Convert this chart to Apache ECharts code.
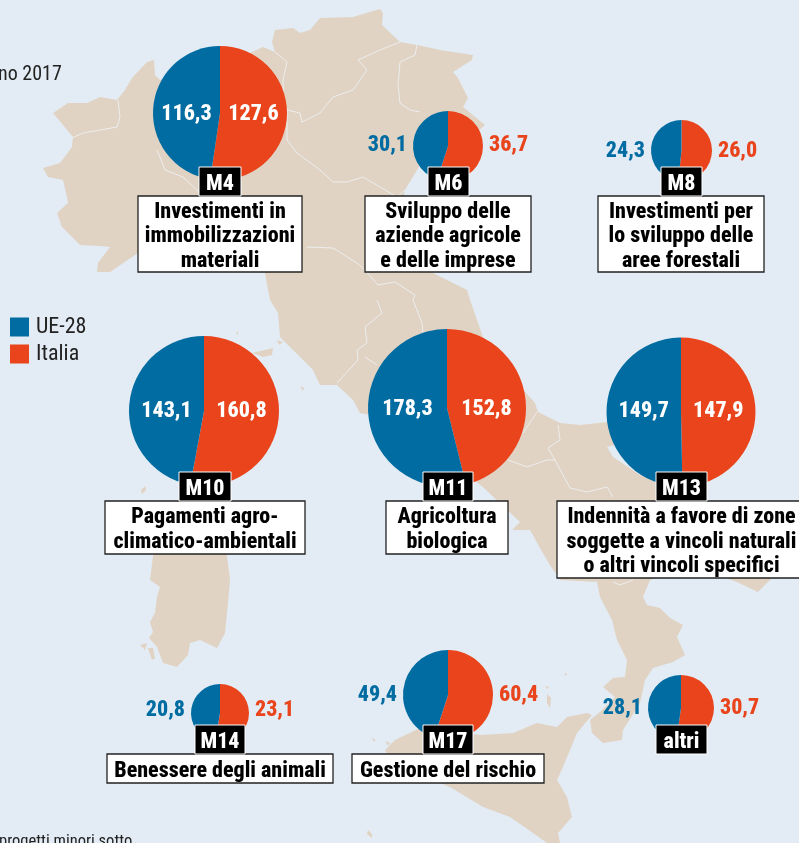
<!DOCTYPE html>
<html><head><meta charset="utf-8">
<style>html,body{margin:0;padding:0;background:#e3ecf4}#c{width:799px;height:843px}</style>
<script src="https://cdn.jsdelivr.net/npm/echarts@6/dist/echarts.min.js"></script>
</head><body><div id="c"></div>
<script>
// ---- data ----
const measures = ['M4','M6','M8','M10','M11','M13','M14','M17','altri'];
const ue28     = [116.3,30.1,24.3,143.1,178.3,149.7,20.8,49.4,28.1];
const italia   = [127.6,36.7,26.0,160.8,152.8,147.9,23.1,60.4,30.7];
const titles   = [
 'Investimenti in\nimmobilizzazioni\nmateriali',
 'Sviluppo delle\naziende agricole\ne delle imprese',
 'Investimenti per\nlo sviluppo delle\naree forestali',
 'Pagamenti agro-\nclimatico-ambientali',
 'Agricoltura\nbiologica',
 'Indennità a favore di zone\nsoggette a vincoli naturali\no altri vincoli specifici',
 'Benessere degli animali',
 'Gestione del rischio',
 ''];
// ---- layout ----
const pieCx = [220,448,681.5,204,447,681,220,448,681];
const pieCy = [113,146,150.5,411,408,412,713,695,708];
const pieR  = [67,35,30.5,75,79,74.5,29,45,33];
const labelY= [114.5,145,151.5,411.5,409.5,411.5,710.5,695.5,708.5];
const inside= [1,0,0,1,1,1,0,0,0];
const tagX  = [[199,241],[428,469],[661,702],[179,231],[423,473],[656,707],[195,245],[423,473],[656,707]];
const tagY  = [167,167,167,472,472,472,725,725,725];
const boxX  = [[138,302],[365,531],[598,764],[105,305],[386,508],[557,806],[107,333],[352,544],null];
const boxY  = [[196,272],[196,272],[196,272],[501,554],[501,554],[501,578],[754,783],[754,783],null];

const BLUE='#006ca1', RED='#e9441b', LAND='#e0d3c3', INK='#000';
const NARROW='"Roboto Condensed","Open Sans Condensed",sans-serif';
const HEAVY=800;
const fmt=v=>v.toFixed(1).replace('.',',');

// ---- base map (decorative backdrop) ----
const mainland=[[53,113],[68,103],[87,103],[100,97],[117,100],[125,90],[132,78],[147,62],[154,60],[155,75],[160,80],[200,60],[240,60],[252,52],[263,47],[275,52],[272,42],[275,30],[293,28],[300,33],[310,30],[320,18],[353,17],[380,9],[383,13],[382,25],[400,42],[417,45],[440,50],[473,55],[472,60],[453,72],[458,78],[468,98],[463,107],[485,125],[477,132],[460,150],[420,165],[405,190],[400,215],[410,245],[433,273],[467,290],[470,300],[483,337],[510,375],[535,403],[538,412],[560,423],[580,425],[607,422],[625,425],[635,440],[607,447],[613,457],[640,475],[680,490],[730,520],[770,560],[775,575],[758,592],[737,582],[715,574],[690,572],[665,575],[650,580],[643,597],[647,605],[660,608],[670,618],[683,625],[677,637],[685,655],[673,662],[653,668],[645,680],[640,703],[623,730],[622,740],[603,743],[592,733],[590,720],[600,712],[615,697],[603,687],[613,678],[625,677],[627,660],[617,640],[612,620],[600,597],[597,582],[560,580],[550,565],[540,548],[530,530],[512,530],[520,522],[505,508],[483,487],[460,470],[420,450],[370,415],[360,413],[353,400],[337,385],[320,385],[313,370],[293,350],[280,337],[278,313],[270,300],[265,273],[240,250],[200,245],[170,248],[138,253],[110,272],[97,272],[98,263],[110,247],[100,246],[80,245],[62,227],[57,213],[68,203],[67,197],[63,180],[48,177],[43,168],[60,163],[72,147],[73,137],[63,125]];
const sardinia=[[155,540],[225,540],[230,580],[227,613],[225,633],[217,648],[200,640],[190,643],[188,655],[177,667],[163,663],[157,647],[149,638],[153,632],[150,622],[155,613],[157,597],[160,587],[150,580]];
const sicily=[[395,740],[420,728],[480,735],[513,733],[537,723],[557,727],[567,717],[587,713],[592,715],[577,733],[563,767],[557,780],[567,797],[572,817],[558,833],[560,843],[547,843],[533,833],[510,817],[483,807],[450,787],[440,783],[395,770],[385,750]];
const islets=[[[140,645],[147,643],[145,650]],[[148,648],[153,648],[155,658],[152,660]],[[252,353],[273,348],[272,355],[263,357]],[[141,490],[145,486],[146,490],[142,494]],[[236,333],[238,331],[238,335]],[[300,386],[304,388],[303,391]],[[368,830],[372,834],[372,838],[367,834]],[[372,737],[376,741],[373,741]],[[386,741],[391,744],[387,745]],[[547,694],[551,698],[550,708],[547,703]],[[564,674],[567,673],[566,676]],[[545,686],[549,687],[547,689]],[[277,340],[283,342],[279,345]]];
const borders=[
 [[72,138],[83,133],[100,130],[117,127],[120,117],[118,100]],
 [[157,150],[165,170],[183,177],[200,193]],
 [[275,52],[287,62],[283,80],[284,110]],
 [[287,110],[300,113],[302,122],[320,113],[333,97],[353,90],[367,70],[358,60],[380,50],[400,42]],
 [[287,108],[287,140],[297,153],[320,170],[333,182],[347,182],[363,177],[397,197],[405,190]],
 [[417,45],[415,55],[400,62],[398,85],[400,103],[410,110],[420,112]],
 [[307,247],[333,248],[357,263],[365,270],[378,285],[395,282],[415,295],[413,300],[422,323],[423,333]],
 [[377,300],[382,313],[365,327],[367,343],[357,350],[358,360],[337,383]],
 [[365,357],[377,365]],
 [[537,412],[523,433]],
 [[508,460],[527,467],[547,460],[555,460],[548,448],[560,440],[558,425]],
 [[555,460],[563,475],[570,488],[587,492],[607,487],[613,497]],
 [[613,582],[620,585],[633,580]]
];

const landEls=[];
[mainland,sardinia,sicily,...islets].forEach(p=>landEls.push({type:'polygon',z:0,shape:{points:p},style:{fill:LAND}}));
borders.forEach(p=>landEls.push({type:'polyline',z:1,shape:{points:p},style:{fill:null,stroke:'#edeeee',lineWidth:1}}));

// ---- tags and boxes ----
const tagEls=[];
measures.forEach((m,i)=>{
  const [x0,x1]=tagX[i], y0=tagY[i];
  if(boxX[i]){
    const [b0,b1]=boxX[i],[y1,y2]=boxY[i];
    tagEls.push({type:'rect',z:20,shape:{x:b0,y:y1,width:b1-b0,height:y2-y1},style:{fill:'#fff',stroke:'#222',lineWidth:1.3}});
    tagEls.push({type:'text',z:21,x:(b0+b1)/2,y:(y1+y2)/2+2.5,style:{text:titles[i],fontFamily:NARROW,fontWeight:HEAVY,fontSize:22,lineHeight:24.5,fill:INK,align:'center',verticalAlign:'middle'}});
  }
  tagEls.push({type:'rect',z:22,shape:{x:x0,y:y0,width:x1-x0,height:29},style:{fill:'#000',stroke:'#fff',lineWidth:1}});
  tagEls.push({type:'text',z:23,x:(x0+x1)/2,y:y0+17,style:{text:m,fontFamily:NARROW,fontWeight:HEAVY,fontSize:22,fill:'#fff',align:'center',verticalAlign:'middle'}});
});
const textEls=[
 {type:'text',z:5,x:-2,y:75,style:{text:'no 2017',fontFamily:NARROW,fontSize:20,fill:'#222',align:'left',verticalAlign:'middle'}},
 {type:'text',z:5,x:-1,y:842,style:{text:'progetti minori sotto',fontFamily:NARROW,fontSize:16.5,fill:'#222',align:'left',verticalAlign:'middle'}},
 {type:'text',z:5,x:251,y:-10.5,style:{text:'pp',fontFamily:NARROW,fontSize:20,fill:'#555',align:'left',verticalAlign:'middle'}}
];

// ---- pies ----
const series=measures.map((m,i)=>({
  type:'pie',name:m,center:[pieCx[i],pieCy[i]],radius:[0,pieR[i]],startAngle:90,clockwise:true,
  animation:false,silent:true,z:10,
  avoidLabelOverlap:false,
  itemStyle:{borderWidth:0},
  labelLine:{show:false},
  label:{show:true,formatter:p=>fmt(p.value),fontFamily:NARROW,fontWeight:HEAVY,fontSize:22,position:inside[i]?'inside':'outside'},
  labelLayout:p=>{
    const right=p.dataIndex===0, s=right?1:-1, cx=pieCx[i], r=pieR[i];
    return inside[i]
      ? {x:cx+s*r/2,y:labelY[i],align:'center',verticalAlign:'middle'}
      : {x:cx+s*(r+6),y:labelY[i],align:right?'left':'right',verticalAlign:'middle'};
  },
  data:[
    {name:'Italia',value:italia[i],itemStyle:{color:RED},label:{color:inside[i]?'#fff':RED}},
    {name:'UE-28',value:ue28[i],itemStyle:{color:BLUE},label:{color:inside[i]?'#fff':BLUE}}
  ]
}));

const chart=echarts.init(document.getElementById('c'),null,{renderer:'canvas'});
chart.setOption({
  backgroundColor:'#e3ecf4',
  animation:false,
  color:[RED,BLUE],
  legend:{orient:'vertical',left:10,top:316,padding:0,itemWidth:19,itemHeight:19,itemGap:5,icon:'rect',data:['UE-28','Italia'],selectedMode:false,
    textStyle:{fontFamily:NARROW,fontSize:22,color:'#222',padding:[2,0,0,2]}},
  graphic:{elements:[...landEls,...textEls,...tagEls]},
  series
});
</script></body></html>
